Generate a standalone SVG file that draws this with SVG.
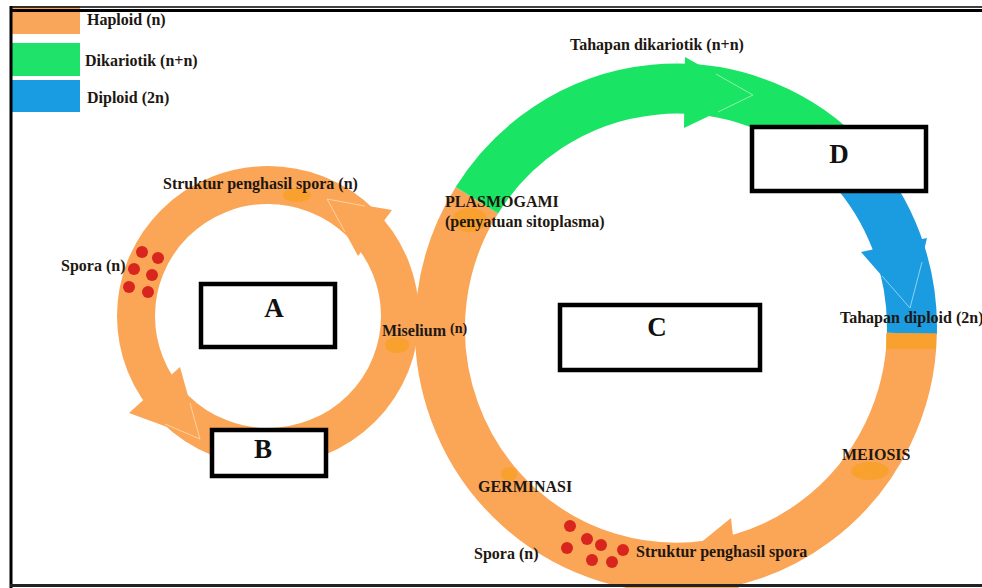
<svg xmlns="http://www.w3.org/2000/svg" width="982" height="588" viewBox="0 0 982 588">
<style>
.t{font-family:"Liberation Serif","Times New Roman",serif;font-weight:bold;font-size:16px;fill:#1e1712}
.big{font-family:"Liberation Serif","Times New Roman",serif;font-weight:bold;font-size:27px;fill:#111;text-anchor:middle}
.box{fill:#fff;stroke:#000;stroke-width:4.5}
.or{fill:none;stroke:#FBA556;stroke-width:38}
.orB{fill:none;stroke:#FBA556;stroke-width:50}
.gr{fill:none;stroke:#19E464;stroke-width:50}
.bl{fill:none;stroke:#1B9BE0;stroke-width:50}
.hO{fill:#FBA556}
.hG{fill:#19E464}
.hB{fill:#1B9BE0}
.ln{fill:none;stroke-width:1}
.dot{fill:#D8261E}
.dk{fill:#F7A01E;opacity:0.7}
</style>
<rect width="982" height="588" fill="#fff"/>

<g id="connectors">
  <!-- big cycle -->
  <path class="orB" d="M 911.9,333.3 A 236 239 0 1 1 476.9,200.3"/>
  <path class="gr" d="M 476.9,200.3 A 236 239 0 0 1 848.6,164"/>
  <path class="bl" d="M 848.6,164 A 236 239 0 0 1 911.9,333.3"/>
  <!-- small cycle -->
  <ellipse class="or" cx="268" cy="316" rx="132" ry="131"/>
  <!-- arrowheads -->
  <polygon class="hG" points="685,57 753,95 684,128"/>
  <polyline class="ln" stroke="#8EF2A8" points="716,74 753,95 718,112"/>
  <polygon class="hB" points="861,252 927,238 910,308"/>
  <polyline class="ln" stroke="#8FD2F5" points="882,276 910,308 922,262"/>
  <polygon class="hO" points="731,518 740,600 672,566"/>
  <polygon class="hO" points="392,210 327,199 358,256"/>
  <polyline class="ln" stroke="#FCD2A2" points="365,206 327,199 345,232"/>
  <polygon class="hO" points="180,367 200,439 129,413"/>
  <polyline class="ln" stroke="#FCD2A2" points="190,403 200,439 165,424"/>
  <!-- darker patches -->
  <ellipse class="dk" cx="297" cy="195" rx="14" ry="7"/>
  <ellipse class="dk" cx="397" cy="345" rx="12" ry="8"/>
  <ellipse class="dk" cx="470" cy="220" rx="17" ry="12"/>
  <ellipse class="dk" cx="509" cy="474" rx="8" ry="7"/>
  <ellipse class="dk" cx="870" cy="471" rx="19" ry="9"/>
  <rect class="dk" x="886" y="333" width="50" height="16"/>
  <!-- spores -->
  <circle class="dot" cx="142" cy="252" r="6"/>
  <circle class="dot" cx="158" cy="258" r="6"/>
  <circle class="dot" cx="134" cy="269" r="6"/>
  <circle class="dot" cx="152" cy="275" r="6"/>
  <circle class="dot" cx="129" cy="287" r="6"/>
  <circle class="dot" cx="148" cy="292" r="6"/>
  <circle class="dot" cx="570" cy="526" r="6"/>
  <circle class="dot" cx="587" cy="539" r="6"/>
  <circle class="dot" cx="601" cy="545" r="6"/>
  <circle class="dot" cx="567" cy="548" r="6"/>
  <circle class="dot" cx="623" cy="550" r="6"/>
  <circle class="dot" cx="592" cy="560" r="6"/>
  <circle class="dot" cx="612" cy="562" r="6"/>
</g>

<g id="legend">
  <g id="legend-haploid"><rect x="11" y="6" width="69" height="28" fill="#F9A65A"/><text class="t" x="87" y="25">Haploid (n)</text></g>
  <g id="legend-dikariotik"><rect x="11" y="43" width="69" height="33" fill="#1FE26A"/><text class="t" x="85" y="66">Dikariotik (n+n)</text></g>
  <g id="legend-diploid"><rect x="11" y="80" width="69" height="32" fill="#1A9CE2"/><text class="t" x="87" y="103">Diploid (2n)</text></g>
</g>

<g id="box-A"><rect class="box" x="201" y="284" width="134" height="63"/><text class="big" x="274" y="317">A</text></g>
<g id="box-B"><rect class="box" x="212" y="430" width="114" height="46"/><text class="big" x="263" y="458">B</text></g>
<g id="box-C"><rect class="box" x="560" y="305" width="200" height="65"/><text class="big" x="657" y="336">C</text></g>
<g id="box-D"><rect class="box" x="752" y="127" width="174" height="64"/><text class="big" x="839" y="163">D</text></g>

<g id="labels">
  <text id="lbl-dikariotik" class="t" x="570" y="50">Tahapan dikariotik (n+n)</text>
  <text id="lbl-struktur1" class="t" x="163" y="189">Struktur penghasil spora (n)</text>
  <text id="lbl-spora1" class="t" x="61" y="271">Spora (n)</text>
  <text id="lbl-plasmogami" class="t" x="445" y="207">PLASMOGAMI</text>
  <text id="lbl-penyatuan" class="t" x="445" y="227">(penyatuan sitoplasma)</text>
  <text id="lbl-miselium" class="t" x="382" y="336">Miselium <tspan font-size="14" dy="-3">(n)</tspan></text>
  <text id="lbl-diploid" class="t" x="840" y="323" font-size="15">Tahapan diploid (2n)</text>
  <text id="lbl-meiosis" class="t" x="842" y="460">MEIOSIS</text>
  <text id="lbl-germinasi" class="t" x="478" y="492">GERMINASI</text>
  <text id="lbl-spora2" class="t" x="474" y="559">Spora (n)</text>
  <text id="lbl-struktur2" class="t" x="636" y="557">Struktur penghasil spora</text>
</g>

<g id="frame" stroke="#000" fill="none">
  <line x1="10" y1="7" x2="982" y2="7" stroke-width="1.5"/>
  <line x1="10" y1="10.5" x2="982" y2="10.5" stroke-width="3"/>
  <line x1="11" y1="6" x2="11" y2="588" stroke-width="3"/>
  <line x1="10" y1="585.5" x2="982" y2="585.5" stroke-width="3" stroke="#222"/>
</g>
</svg>
